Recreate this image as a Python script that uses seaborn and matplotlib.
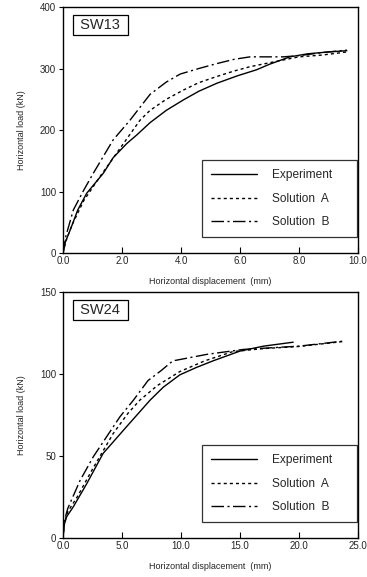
import numpy as np
import pandas as pd
import matplotlib
matplotlib.use("Agg")
import matplotlib.pyplot as plt
import seaborn as sns
from matplotlib.lines import Line2D

sns.set_style("ticks")
plt.rcParams['font.family'] = ['Liberation Sans', 'DejaVu Sans']

# ---- SW13 data ----
sw13_exp_x = [0.0, 0.08, 0.24, 0.5, 0.8, 1.37, 1.7, 2.16, 2.5, 2.95, 3.5, 4.08, 4.6, 5.21, 5.9, 6.56, 7.0, 7.69, 8.3, 9.0, 9.62]
sw13_exp_y = [0, 18, 37, 70, 97, 130, 155, 178, 192, 212, 232, 249, 263, 276, 288, 298, 307, 319, 324, 327, 329]
sw13_a_x = [0.0, 0.1, 0.3, 0.7, 1.25, 1.93, 2.61, 2.95, 3.5, 4.08, 4.6, 5.21, 5.8, 6.34, 7.47, 8.0, 8.8, 9.62]
sw13_a_y = [0, 20, 45, 85, 124, 170, 216, 232, 250, 265, 277, 287, 296, 303, 314, 319, 322, 327]
sw13_b_x = [0.0, 0.1, 0.35, 0.7, 1.03, 1.7, 2.27, 2.95, 3.5, 3.97, 4.6, 5.21, 5.8, 6.34, 7.47, 8.0, 8.8, 9.62]
sw13_b_y = [0, 28, 70, 102, 130, 184, 216, 258, 278, 291, 300, 308, 315, 319, 319, 321, 326, 330]

# ---- SW24 data ----
sw24_exp_x = [0.0, 0.1, 0.31, 0.87, 2.0, 3.4, 5.4, 7.37, 8.5, 9.9, 11.3, 12.7, 15.0, 17.0, 19.5]
sw24_exp_y = [0, 8, 13, 19, 33, 51.6, 68, 84, 92, 99.5, 104, 108, 114, 117, 119.4]
sw24_a_x = [0.0, 0.1, 0.4, 1.2, 2.5, 4.26, 5.5, 6.5, 8.0, 9.9, 12.0, 14.4, 17.0, 20.0, 23.7]
sw24_a_y = [0, 9, 16, 25, 42, 63.8, 76, 84, 93, 101.5, 108, 113.7, 115.5, 116.8, 119.8]
sw24_b_x = [0.0, 0.1, 0.4, 1.44, 2.57, 4.83, 5.96, 7.2, 8.3, 9.3, 12.2, 15.3, 20.0, 23.7]
sw24_b_y = [0, 10, 18, 35, 49.6, 74, 84, 96, 102, 108, 112, 115, 117, 120]

series_names = ["Experiment", "Solution A", "Solution B"]

fig = plt.figure(figsize=(3.67, 5.77), dpi=100)
ax1 = fig.add_axes([0.1717, 0.5615, 0.804, 0.4263])
ax2 = fig.add_axes([0.1717, 0.0676, 0.804, 0.4263])

styles = {
    "Experiment": None,
    "Solution A": (2.2, 2.2),
    "Solution B": (9, 2.5, 1.5, 2.5),
}

def draw(ax, data, xlim, ylim, xticks, yticks, xfmt, name):
    for s, (xs, ys) in zip(series_names, data):
        df = pd.DataFrame({"x": xs, "y": ys})
        sns.lineplot(data=df, x="x", y="y", ax=ax, color="black", lw=1.0,
                     sort=False, estimator=None)
        ln = ax.lines[-1]
        if styles[s] is not None:
            ln.set_dashes(styles[s])
    ax.set_xlim(*xlim)
    ax.set_ylim(*ylim)
    ax.set_xticks(xticks)
    ax.set_xticklabels([xfmt % t for t in xticks])
    ax.set_yticks(yticks)
    ax.set_yticklabels([str(t) for t in yticks])
    ax.tick_params(axis='x', direction='in', length=4, width=0.8, labelsize=7, pad=2, color='black')
    ax.tick_params(axis='y', direction='out', length=3, width=0.8, labelsize=7, pad=2, color='black')
    for sp in ax.spines.values():
        sp.set_linewidth(1.0)
        sp.set_color('black')
    ax.set_xlabel("Horizontal displacement  (mm)", fontsize=6.5, labelpad=8)
    ax.set_ylabel("Horizontal load (kN)", fontsize=6.5, labelpad=10)
    handles = [
        Line2D([0], [0], color='black', lw=1.0, linestyle='-'),
        Line2D([0], [0], color='black', lw=1.0, linestyle=(0, styles["Solution A"])),
        Line2D([0], [0], color='black', lw=1.0, linestyle=(0, styles["Solution B"])),
    ]
    leg = ax.legend(handles, ["Experiment", "Solution  A", "Solution  B"],
                    loc='lower left', bbox_to_anchor=(0.47, 0.065, 0.525, 0.317),
                    mode='expand', fontsize=8.6, frameon=True, fancybox=False,
                    edgecolor='black', handlelength=3.9, handletextpad=1.2,
                    borderpad=0.75, labelspacing=0.95, borderaxespad=0)
    leg.get_frame().set_linewidth(0.9)
    ax.text(0.045, 0.955, name, transform=ax.transAxes, fontsize=10.5,
            va='top', ha='left',
            bbox=dict(boxstyle='square,pad=0.22', facecolor='white', edgecolor='black', lw=0.9))

draw(ax1, [(sw13_exp_x, sw13_exp_y), (sw13_a_x, sw13_a_y), (sw13_b_x, sw13_b_y)],
     (0, 10), (0, 400), [0, 2, 4, 6, 8, 10], [0, 100, 200, 300, 400], "%.1f", " SW13 ")
draw(ax2, [(sw24_exp_x, sw24_exp_y), (sw24_a_x, sw24_a_y), (sw24_b_x, sw24_b_y)],
     (0, 25), (0, 150), [0, 5, 10, 15, 20, 25], [0, 50, 100, 150], "%.1f", " SW24 ")

fig.savefig("out.png", dpi=100)
